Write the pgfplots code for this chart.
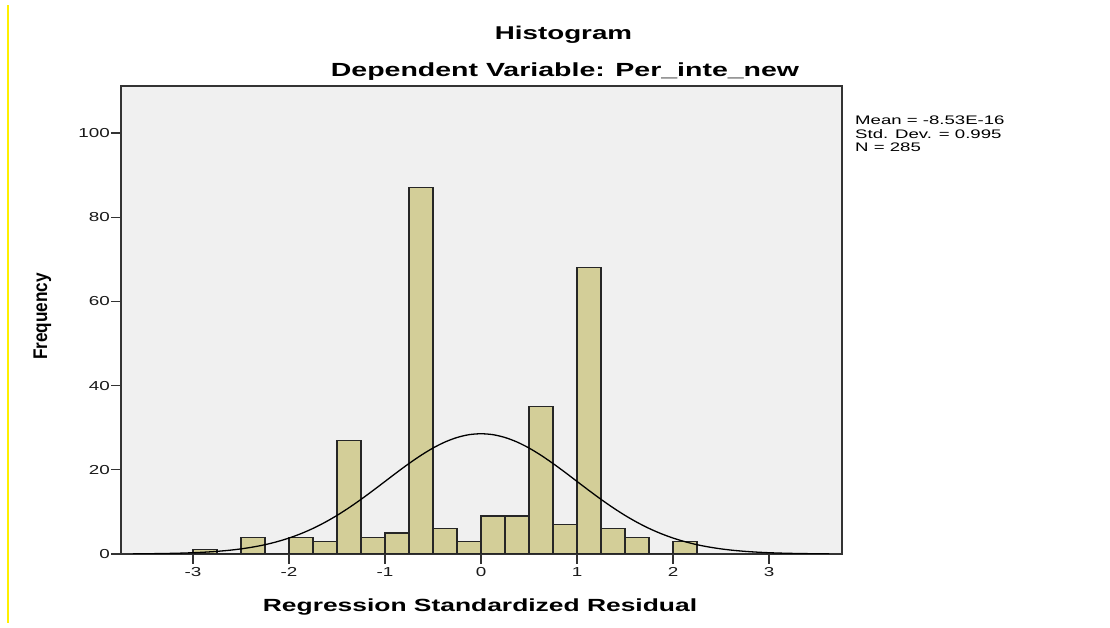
\documentclass[border=0pt]{standalone}
\usepackage{pgfplots}
\pgfplotsset{compat=1.18}
\usepackage{fontspec}
\setmainfont{Liberation Sans}
\usepackage{graphicx}
\definecolor{barfill}{HTML}{D3CE98}
\definecolor{plotbg}{HTML}{F0F0F0}
\definecolor{frame}{HTML}{333333}
\newcommand{\sx}[1]{\scalebox{1.45}[1]{#1}}
\newcommand{\st}[1]{\scalebox{1.5}[1]{#1}}
\begin{document}
\begin{tikzpicture}[x=1pt,y=1pt]
\useasboundingbox (0,0) rectangle (1110,628);
\fill[white] (0,0) rectangle (1110,628);
\draw[color={rgb,255:red,255;green,240;blue,0}, line width=2pt] (8,5) -- (8,623);
\begin{axis}[
  at={(121pt,74pt)}, anchor=south west,
  scale only axis, width=721pt, height=468pt,
  xmin=-3.75, xmax=3.76, ymin=0, ymax=111.2,
  axis background/.style={fill=plotbg},
  axis line style={draw=frame, line width=1.3pt},
  tick align=outside, tick pos=left,
  xtick={-3,-2,-1,0,1,2,3}, ytick={0,20,40,60,80,100},
  xticklabels={\sx{-3},\sx{-2},\sx{-1},\sx{0},\sx{1},\sx{2},\sx{3}},
  yticklabels={\sx{0},\sx{20},\sx{40},\sx{60},\sx{80},\sx{100}},
  ticklabel style={font=\fontsize{13}{14}\selectfont, text=black!90},
  major tick style={draw=frame, line width=1.3pt},
  major tick length=10pt,
  yticklabel style={inner sep=1pt},
  xticklabel style={inner sep=3pt},
  minor tick num=0,
]
\addplot[ybar interval, fill=barfill, draw=black!85, line width=1.3pt] coordinates {
(-3,1) (-2.75,0) (-2.5,4) (-2.25,0) (-2,4) (-1.75,3) (-1.5,27) (-1.25,4) (-1,5) (-0.75,87) (-0.5,6) (-0.25,3) (0,9) (0.25,9) (0.5,35) (0.75,7) (1,68) (1.25,6) (1.5,4) (1.75,0) (2,3) (2.25,0)
};
\addplot[smooth, black, line width=1.3pt, no marks] coordinates {
(-3.625,0.0375) (-3.5,0.0587) (-3.375,0.0907) (-3.25,0.138) (-3.125,0.206) (-3,0.303) (-2.875,0.440) (-2.75,0.627) (-2.625,0.880) (-2.5,1.216) (-2.375,1.655) (-2.25,2.21) (-2.125,2.92) (-2,3.79) (-1.875,4.84) (-1.75,6.08) (-1.625,7.53) (-1.5,9.17) (-1.375,11.00) (-1.25,12.98) (-1.125,15.08) (-1,17.24) (-0.875,19.41) (-0.75,21.50) (-0.625,23.45) (-0.5,25.18) (-0.375,26.61) (-0.25,27.68) (-0.125,28.35) (0,28.57) (0.125,28.35) (0.25,27.68) (0.375,26.61) (0.5,25.18) (0.625,23.45) (0.75,21.50) (0.875,19.41) (1,17.24) (1.125,15.08) (1.25,12.98) (1.375,11.00) (1.5,9.17) (1.625,7.53) (1.75,6.08) (1.875,4.84) (2,3.79) (2.125,2.92) (2.25,2.21) (2.375,1.655) (2.5,1.216) (2.625,0.880) (2.75,0.627) (2.875,0.440) (3,0.303) (3.125,0.206) (3.25,0.138) (3.375,0.0907) (3.5,0.0587) (3.625,0.0375)
};
\end{axis}
\node[anchor=base, font=\bfseries\fontsize{18.5}{20}\selectfont] at (563.5,588) {\st{Histogram}};
\node[anchor=base, font=\bfseries\fontsize{19}{20}\selectfont] at (565,551) {\st{Dependent Variable: Per\_inte\_new}};
\node[anchor=base, font=\bfseries\fontsize{17.6}{20}\selectfont] at (480,16) {\st{Regression Standardized Residual}};
\node[anchor=base, rotate=90, font=\bfseries\fontsize{17.2}{18}\selectfont] at (47,311.5) {\scalebox{1}[1.15]{Frequency}};
\node[anchor=base west, inner sep=0pt, font=\fontsize{12.4}{14}\selectfont] at (855,503) {\st{Mean = -8.53E-16}};
\node[anchor=base west, inner sep=0pt, font=\fontsize{12.4}{14}\selectfont] at (855,489.5) {\st{Std. Dev. = 0.995}};
\node[anchor=base west, inner sep=0pt, font=\fontsize{12.4}{14}\selectfont] at (855,476) {\st{N = 285}};
\end{tikzpicture}
\end{document}
